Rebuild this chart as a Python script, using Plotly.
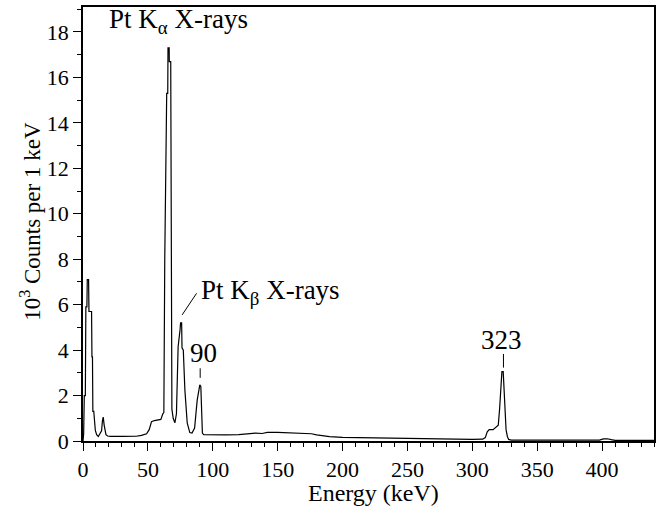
import plotly.graph_objects as go

# Spectrum (energy in keV, counts in 10^3 per 1 keV)
energy = [0, 0.5, 1, 1.8, 2.2, 3.0, 3.3, 4.3, 4.6, 6.6, 6.9, 7.3, 7.6, 8.3, 9.5, 10.5,
          11.8, 13, 14.3, 15.0, 15.6, 16.3, 17.7, 19, 21, 30, 41, 45, 49, 51, 52.8, 55,
          58, 60, 61.5, 62.3, 63.0, 64.0, 64.5, 65.3, 65.5, 66.4, 66.5, 67.6, 68.2, 68.5,
          69.5, 70.8, 72, 73.3, 74.8, 75.2, 76, 76.3, 77.3, 78.5, 80.3, 82.3, 84, 86, 88,
          89.5, 90, 90.8, 91.3, 92, 93, 100, 110, 120, 125, 130, 133, 138, 142, 150, 160,
          165, 170, 176, 180, 185, 190, 200, 210, 220, 230, 240, 250, 260, 270, 280, 290,
          300, 308, 310, 311.5, 313, 316, 318, 320, 321, 322, 322.8, 323.8, 324.5, 325.3,
          326, 327, 328, 330, 350, 380, 398, 401, 404, 407, 410, 440]
counts = [0.0, 0.3, 2.0, 2.0, 5.9, 5.9, 7.1, 7.1, 5.7, 5.7, 3.7, 3.7, 1.3, 1.3, 0.47, 0.28,
          0.2, 0.3, 0.45, 0.9, 1.05, 0.7, 0.28, 0.22, 0.2, 0.2, 0.21, 0.25, 0.32, 0.5, 0.85, 0.9,
          0.92, 0.95, 1.2, 1.25, 8.0, 14.0, 15.3, 15.3, 17.3, 17.3, 16.7, 16.7, 6.0, 1.4,
          1.0, 0.8, 1.2, 4.15, 4.9, 5.2, 5.2, 4.1, 4.0, 2.25, 0.8, 0.37, 0.35, 0.57, 1.8,
          2.3, 2.47, 2.4, 1.5, 0.35, 0.28, 0.27, 0.27, 0.28, 0.3, 0.32, 0.35, 0.33, 0.38, 0.38, 0.36,
          0.35, 0.34, 0.32, 0.27, 0.22, 0.19, 0.16, 0.15, 0.13, 0.12, 0.11, 0.1, 0.09, 0.08, 0.08, 0.07,
          0.07, 0.08, 0.15, 0.4, 0.5, 0.5, 0.6, 0.7, 1.4, 2.6, 3.05, 3.05, 2.0, 1.0,
          0.5, 0.2, 0.07, 0.04, 0.04, 0.03, 0.04, 0.09, 0.1, 0.06, 0.03, 0.03]

x_ticks = [0, 50, 100, 150, 200, 250, 300, 350, 400]
y_ticks = [0, 2, 4, 6, 8, 10, 12, 14, 16, 18]
x_title = "Energy (keV)"
y_title = "10<sup>3</sup> Counts per 1 keV"

FONT = "Liberation Serif"

fig = go.Figure()
fig.add_trace(go.Scatter(x=energy, y=counts, mode="lines",
                         line=dict(color="black", width=1.2), hoverinfo="skip"))

axis_common = dict(showline=True, linecolor="black", linewidth=1.5, mirror=True,
                   ticks="outside", ticklen=8, tickwidth=1, tickcolor="black",
                   showgrid=False, zeroline=False, automargin=False,
                   tickfont=dict(family=FONT, size=22, color="black"))

fig.update_xaxes(range=[0, 440], tickvals=x_ticks,
                 minor=dict(dtick=10, ticklen=4, tickcolor="black", ticks="outside"),
                 **axis_common)
fig.update_yaxes(range=[0, 19.1], tickvals=y_ticks,
                 minor=dict(dtick=1, ticklen=4, tickcolor="black", ticks="outside"),
                 **axis_common)

# axis titles placed as paper annotations
fig.add_annotation(x=0.5096, y=-0.1198, xref="paper", yref="paper", text=x_title,
                   showarrow=False, xanchor="center", yanchor="middle",
                   font=dict(family=FONT, size=24, color="black"))
fig.add_annotation(x=-0.091, y=0.505, xref="paper", yref="paper", text=y_title,
                   showarrow=False, xanchor="center", yanchor="middle", textangle=-90,
                   font=dict(family=FONT, size=23, color="black"))

ann_font = dict(family=FONT, size=27, color="black")
fig.add_annotation(x=18.5, y=18.5, xref="x", yref="y", text="Pt K<sub>α</sub> X-rays",
                   showarrow=False, xanchor="left", yanchor="middle", font=ann_font)
fig.add_annotation(x=89.2, y=6.55, xref="x", yref="y", text="Pt K<sub>β</sub> X-rays",
                   showarrow=False, xanchor="left", yanchor="middle", font=ann_font)
fig.add_annotation(x=92.8, y=3.88, xref="x", yref="y", text="90",
                   showarrow=False, xanchor="center", yanchor="middle", font=ann_font)
fig.add_annotation(x=322.3, y=4.45, xref="x", yref="y", text="323",
                   showarrow=False, xanchor="center", yanchor="middle", font=ann_font)

line_style = dict(color="black", width=1)
fig.add_shape(type="line", x0=90.3, x1=90.3, y0=2.78, y1=3.2, xref="x", yref="y", line=line_style)
fig.add_shape(type="line", x0=324.0, x1=324.0, y0=3.23, y1=3.83, xref="x", yref="y", line=line_style)
fig.add_shape(type="line", x0=76.4, x1=87.5, y0=5.55, y1=6.5, xref="x", yref="y", line=line_style)

fig.update_layout(width=661, height=506, margin=dict(l=83, r=7, t=7, b=65),
                  plot_bgcolor="white", paper_bgcolor="white", showlegend=False,
                  font=dict(family=FONT, color="black"))

fig.write_html("out.html")
